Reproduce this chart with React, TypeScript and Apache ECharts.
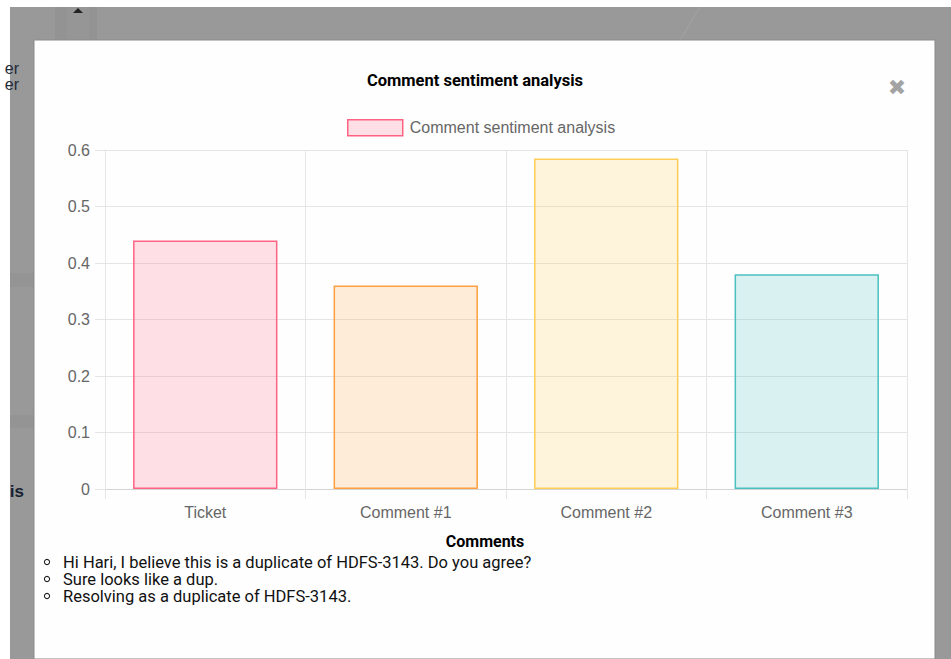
import React, { useEffect, useRef } from "react";
import * as echarts from "echarts";

const chartTitle = "Comment sentiment analysis";
const seriesName = "Comment sentiment analysis";
const categories = ["Ticket", "Comment #1", "Comment #2", "Comment #3"];
const sentimentValues = [0.44, 0.36, 0.585, 0.38];
const fillColors = [
  "rgba(255,99,132,0.2)",
  "rgba(255,159,64,0.2)",
  "rgba(255,205,86,0.2)",
  "rgba(75,192,192,0.2)",
];
const borderColors = [
  "rgb(255,99,132)",
  "rgb(255,159,64)",
  "rgb(255,205,86)",
  "rgb(75,192,192)",
];
const commentsHeading = "Comments";
const comments = [
  "Hi Hari, I believe this is a duplicate of HDFS-3143. Do you agree?",
  "Sure looks like a dup.",
  "Resolving as a duplicate of HDFS-3143.",
];

export default function App() {
  const ref = useRef<HTMLDivElement>(null);

  useEffect(() => {
    if (!ref.current) return;
    const chart = echarts.init(ref.current, null, { renderer: "svg" });

    const lineGap = 17;
    const firstLineY = 562;
    const commentGraphics: any[] = comments.map((_, i) => ({
      type: "circle",
      shape: { cx: 47, cy: firstLineY + i * lineGap, r: 2.6 },
      style: { fill: "none", stroke: "#222", lineWidth: 1.1 },
      z: 10,
    }));
    commentGraphics.push({
      type: "text",
      x: 63,
      y: firstLineY - lineGap / 2,
      style: {
        text: comments.join("\n"),
        font: "16.5px Roboto",
        lineHeight: lineGap,
        fill: "#111",
        verticalAlign: "top",
      },
      z: 10,
    });

    const option: any = {
      animation: false,
      backgroundColor: "#999999",
      title: {
        text: chartTitle,
        left: 475,
        top: 72,
        padding: 0,
        textAlign: "center",
        textStyle: {
          fontFamily: "Roboto",
          fontWeight: "bold",
          fontSize: 16.5,
          color: "#000",
        },
      },
      legend: {
        left: 347,
        top: 119,
        padding: 0,
        itemWidth: 55,
        itemHeight: 16,
        icon: "rect",
        data: [seriesName],
        textStyle: {
          fontFamily: "Liberation Sans, Arial",
          fontSize: 16,
          color: "#666",
          padding: [0, 0, 0, 2],
        },
        itemStyle: {
          color: fillColors[0],
          borderColor: borderColors[0],
          borderWidth: 1.5,
        },
      },
      grid: { left: 105, right: 44, top: 150, bottom: 170 },
      xAxis: {
        type: "category",
        data: categories,
        boundaryGap: true,
        axisLine: { lineStyle: { color: "#d4d4d4", width: 1 } },
        axisTick: { show: true, length: 10, lineStyle: { color: "#e5e5e5" } },
        splitLine: { show: true, lineStyle: { color: "#e5e5e5", width: 1 } },
        axisLabel: {
          fontFamily: "Liberation Sans, Arial",
          fontSize: 16,
          color: "#666",
          margin: 15,
        },
      },
      yAxis: {
        type: "value",
        min: 0,
        max: 0.6,
        interval: 0.1,
        axisLine: { show: true, lineStyle: { color: "#e5e5e5" } },
        axisTick: { show: true, length: 10, lineStyle: { color: "#e5e5e5" } },
        splitLine: { show: true, lineStyle: { color: "#e5e5e5", width: 1 } },
        axisLabel: {
          fontFamily: "Liberation Sans, Arial",
          fontSize: 16,
          color: "#666",
          margin: 15,
          formatter: (v: number) => (v === 0 ? "0" : String(Math.round(v * 10) / 10)),
        },
      },
      series: [
        {
          name: seriesName,
          type: "bar",
          barCategoryGap: "28%",
          itemStyle: {
            color: fillColors[0],
            borderColor: borderColors[0],
            borderWidth: 1.5,
          },
          data: sentimentValues.map((v, i) => ({
            value: v,
            itemStyle: {
              color: fillColors[i],
              borderColor: borderColors[i],
              borderWidth: 1.5,
            },
          })),
        },
      ],
      graphic: [
        // page background pieces behind the modal
        { type: "rect", shape: { x: 0, y: 0, width: 951, height: 7 }, style: { fill: "#ffffff" }, z: -10 },
        { type: "rect", shape: { x: 0, y: 0, width: 10, height: 659 }, style: { fill: "#ffffff" }, z: -10 },
        { type: "rect", shape: { x: 55, y: 7, width: 42, height: 33 }, style: { fill: "#939393" }, z: -10 },
        { type: "rect", shape: { x: 67, y: 7, width: 22, height: 33 }, style: { fill: "#969696" }, z: -10 },
        { type: "polygon", shape: { points: [[73, 13], [83, 13], [78, 8]] }, style: { fill: "#222" }, z: -9 },
        { type: "line", shape: { x1: 680, y1: 40, x2: 700, y2: 7 }, style: { stroke: "#a3a3a3", lineWidth: 1 }, z: -10 },
        { type: "rect", shape: { x: 10, y: 273, width: 25, height: 14 }, style: { fill: "#949494" }, z: -10 },
        { type: "rect", shape: { x: 10, y: 415, width: 25, height: 13 }, style: { fill: "#949494" }, z: -10 },
        {
          type: "text", x: 19, y: 68,
          style: { text: "er", font: "16px Liberation Sans, Arial", fill: "#1e2b38", align: "right", verticalAlign: "middle" },
          z: -9,
        },
        {
          type: "text", x: 19, y: 84,
          style: { text: "er", font: "16px Liberation Sans, Arial", fill: "#1e2b38", align: "right", verticalAlign: "middle" },
          z: -9,
        },
        {
          type: "text", x: 24, y: 491,
          style: { text: "is", font: "bold 17px Liberation Sans, Arial", fill: "#162230", align: "right", verticalAlign: "middle" },
          z: -9,
        },
        // modal
        { type: "rect", shape: { x: 34, y: 40, width: 901, height: 619 }, style: { fill: "#fefefe", stroke: "#8a8a8a", lineWidth: 1 }, z: -5 },
        // close button
        {
          type: "text", x: 897, y: 87,
          style: { text: "✖", font: "bold 22px DejaVu Sans", fill: "#a3a3a3", align: "center", verticalAlign: "middle" },
          z: 10,
        },
        {
          type: "text", x: 485, y: 541,
          style: { text: commentsHeading, font: "bold 16px Roboto", fill: "#000", align: "center", verticalAlign: "middle" },
          z: 10,
        },
        ...commentGraphics,
      ],
    };

    chart.setOption(option);
    return () => chart.dispose();
  }, []);

  return (
    <div
      ref={ref}
      style={{ position: "absolute", left: 0, top: 0, width: 951, height: 659 }}
    />
  );
}
